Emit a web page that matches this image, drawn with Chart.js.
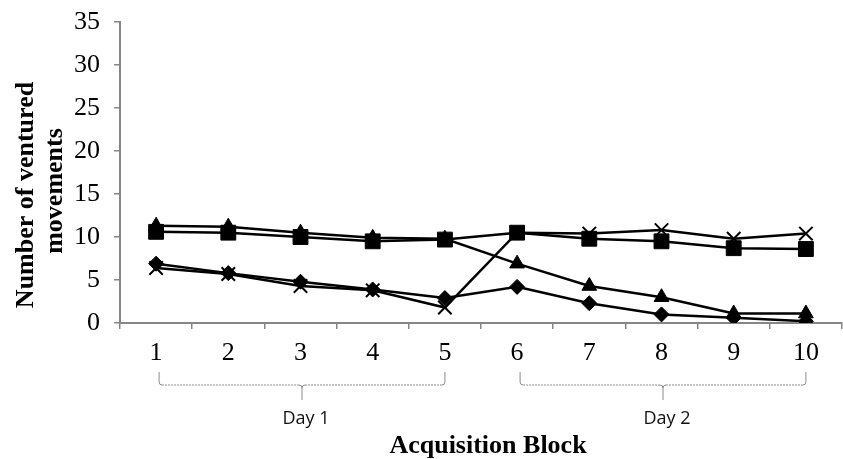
<!DOCTYPE html>
<html>
<head>
<meta charset="utf-8">
<script src="https://cdn.jsdelivr.net/npm/chart.js@4.4.1/dist/chart.umd.min.js"></script>
<style>
  html, body { margin: 0; padding: 0; background: #fff; }
  #wrap { width: 843px; height: 459px; position: relative; }
</style>
</head>
<body>
<div id="wrap"><canvas id="chart"></canvas></div>
<script>
// data
const blocks = ['1', '2', '3', '4', '5', '6', '7', '8', '9', '10'];
const diamondVals = [6.9, 5.8, 4.8, 3.9, 2.9, 4.2, 2.3, 1.0, 0.6, 0.2];
const squareVals = [10.6, 10.5, 10.0, 9.5, 9.7, 10.5, 9.8, 9.5, 8.7, 8.6];
const triangleVals = [11.3, 11.2, 10.5, 9.9, 9.8, 6.9, 4.3, 3.0, 1.1, 1.1];
const crossVals = [6.4, 5.7, 4.3, 3.8, 1.8, 10.5, 10.4, 10.8, 9.8, 10.4];
const yTitle = ['Number of ventured', 'movements'];
const xTitle = 'Acquisition Block';
const dayGroups = [
  { label: 'Day 1', from: 0, to: 4 },
  { label: 'Day 2', from: 5, to: 9 }
];

const serif = '"Liberation Serif", "Times New Roman", serif';
const axisGray = '#868686';

function series(data, style, radius) {
  return {
    data: data,
    borderColor: '#000',
    backgroundColor: '#000',
    borderWidth: 2.5,
    pointStyle: style,
    pointRadius: radius,
    pointBorderWidth: style === 'crossRot' ? 2 : 1,
    pointBackgroundColor: '#000',
    pointBorderColor: '#000',
    tension: 0,
    fill: false
  };
}

// titles and the day brackets under the axis
const extras = {
  id: 'extras',
  afterDraw(chart) {
    const ctx = chart.ctx;
    const x = chart.scales.x;
    const area = chart.chartArea;
    ctx.save();

    // y title, two rotated lines
    ctx.fillStyle = '#000';
    ctx.font = 'bold 26px ' + serif;
    ctx.textAlign = 'center';
    ctx.textBaseline = 'alphabetic';
    [[33, 195], [62, 191]].forEach((p, i) => {
      ctx.save();
      ctx.translate(p[0], p[1]);
      ctx.rotate(-Math.PI / 2);
      ctx.fillText(yTitle[i], 0, 0);
      ctx.restore();
    });

    // brackets
    ctx.strokeStyle = '#8c8c8c';
    ctx.lineWidth = 1;
    dayGroups.forEach(g => {
      const x1 = x.getPixelForValue(g.from) + 3;
      const x2 = x.getPixelForValue(g.to);
      const mid = (x1 + x2) / 2;
      const top = area.bottom + 49, line = area.bottom + 62, tip = area.bottom + 77;
      ctx.setLineDash([]);
      ctx.beginPath();
      ctx.moveTo(x1, top);
      ctx.lineTo(x1, line - 3);
      ctx.quadraticCurveTo(x1, line, x1 + 3, line);
      ctx.moveTo(x2, top);
      ctx.lineTo(x2, line - 3);
      ctx.quadraticCurveTo(x2, line, x2 - 3, line);
      ctx.moveTo(mid - 3, line);
      ctx.quadraticCurveTo(mid, line, mid, line + 3);
      ctx.lineTo(mid, tip);
      ctx.moveTo(mid + 3, line);
      ctx.quadraticCurveTo(mid, line, mid, line + 3);
      ctx.stroke();
      ctx.setLineDash([2, 1]);
      ctx.beginPath();
      ctx.moveTo(x1 + 3, line);
      ctx.lineTo(mid - 3, line);
      ctx.moveTo(mid + 3, line);
      ctx.lineTo(x2 - 3, line);
      ctx.stroke();

      ctx.setLineDash([]);
      ctx.font = '18px "Open Sans", sans-serif';
      ctx.textBaseline = 'alphabetic';
      ctx.fillStyle = '#111';
      ctx.fillText(g.label, mid + 4, area.bottom + 101);
    });

    // x title
    ctx.fillStyle = '#000';
    ctx.font = 'bold 26px ' + serif;
    ctx.fillText(xTitle, (area.left + area.right) / 2 + 7, area.bottom + 130);
    ctx.restore();
  }
};

new Chart(document.getElementById('chart'), {
  type: 'line',
  data: {
    labels: blocks,
    datasets: [
      series(diamondVals, 'rectRot', 7.5),
      series(squareVals, 'rect', 10.5),
      series(triangleVals, 'triangle', 8.5),
      series(crossVals, 'crossRot', 9.5)
    ]
  },
  options: {
    responsive: true,
    maintainAspectRatio: false,
    animation: false,
    layout: { autoPadding: false, padding: { top: 22, right: 1, left: 0, bottom: 0 } },
    plugins: { legend: { display: false }, tooltip: { enabled: false } },
    scales: {
      x: {
        offset: true,
        grid: { offset: true, drawOnChartArea: false, drawTicks: true, tickLength: 6, color: axisGray, lineWidth: 1.5 },
        border: { display: true, color: axisGray, width: 2 },
        ticks: { color: '#000', font: { family: serif, size: 26 }, padding: 9, maxRotation: 0 },
        afterFit(scale) { scale.height = 136; }
      },
      y: {
        min: 0,
        max: 35,
        ticks: { stepSize: 5, color: '#000', font: { family: serif, size: 26 }, padding: 14 },
        grid: { drawOnChartArea: false, drawTicks: true, tickLength: 6, color: axisGray, lineWidth: 1.5 },
        border: { display: true, color: axisGray, width: 2 },
        afterFit(scale) {
          scale.width = 120;
          scale.paddingTop = 0;
          scale.paddingBottom = 0;
        }
      }
    }
  },
  plugins: [extras]
});
</script>
</body>
</html>
